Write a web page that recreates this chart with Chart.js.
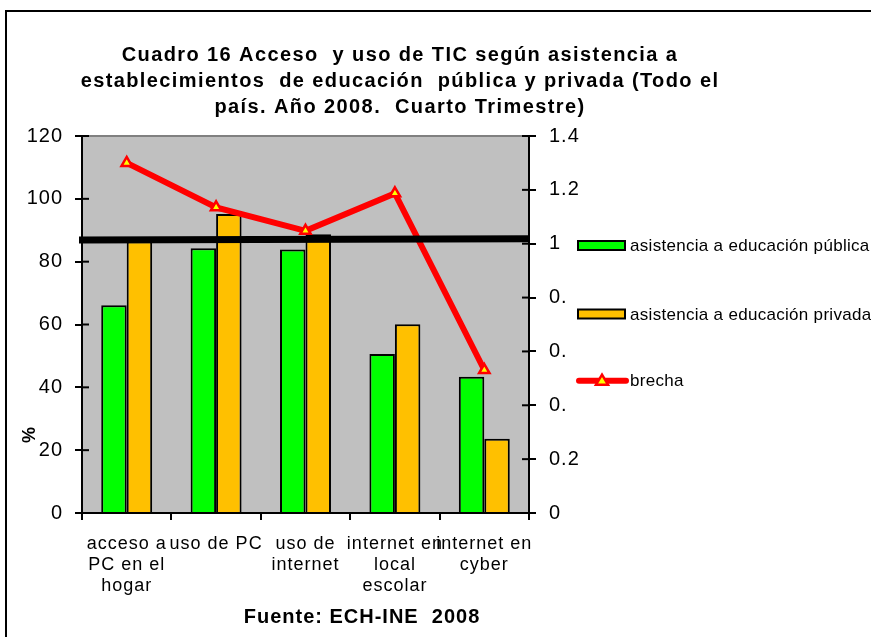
<!DOCTYPE html>
<html><head><meta charset="utf-8">
<script src="https://cdn.jsdelivr.net/npm/chart.js@4/dist/chart.umd.min.js"></script>
<style>html,body{margin:0;padding:0;background:#fff;overflow:hidden}#wrap{position:relative;width:871px;height:637px}</style>
</head><body><div id="wrap"><canvas id="c" width="871" height="637"></canvas></div>
<script>
const categories = [["acceso a","PC en el","hogar"],["uso de PC"],["uso de","internet"],["internet en","local","escolar"],["internet en","cyber"]];
const publica = [66.1, 84.3, 83.9, 50.6, 43.4];
const privada = [86.5, 95.2, 88.7, 60.1, 23.6];
const brecha = [1.30, 1.135, 1.048, 1.187, 0.531];
const referencia = [1.014, 1.018];
const leftTickValues = [0, 20, 40, 60, 80, 100, 120];
const rightTickValues = [0, 0.2, 0.4, 0.6, 0.8, 1, 1.2, 1.4];
const rightTickLabels = ["0", "0.2", "0.", "0.", "0.", "1", "1.2", "1.4"];
const seriesNames = ["asistencia a educación pública", "asistencia a educación privada", "brecha"];
const titleLines = ["Cuadro 16 Acceso  y uso de TIC según asistencia a", "establecimientos  de educación  pública y privada (Todo el", "país. Año 2008.  Cuarto Trimestre)"];
const footerText = "Fuente: ECH-INE  2008";
const yTitleText = "%";

const FONT = '"Liberation Sans", Arial, sans-serif';
const GREEN = '#00FF00', ORANGE = '#FFC000', RED = '#FF0000', YELLOW = '#FFFF00';

function setLS(ctx, v) { if ('letterSpacing' in ctx) ctx.letterSpacing = v; }

const decor = {
  id: 'decor',
  beforeDraw(chart) {
    const ctx = chart.ctx, a = chart.chartArea;
    ctx.save();
    ctx.fillStyle = '#fff';
    ctx.fillRect(0, 0, chart.width, chart.height);
    ctx.fillStyle = '#C0C0C0';
    ctx.fillRect(a.left, a.top, a.right - a.left, a.bottom - a.top);
    ctx.strokeStyle = '#808080';
    ctx.lineWidth = 2;
    ctx.beginPath(); ctx.moveTo(a.left, a.top); ctx.lineTo(a.right, a.top); ctx.stroke();
    ctx.restore();
    setLS(ctx, '1px');
  },
  afterDatasetsDraw(chart) {
    const ctx = chart.ctx, a = chart.chartArea, y1 = chart.scales.y1;
    ctx.save();
    ctx.strokeStyle = '#000';
    ctx.lineWidth = 7;
    ctx.beginPath();
    ctx.moveTo(a.left - 3, y1.getPixelForValue(referencia[0]));
    ctx.lineTo(a.right, y1.getPixelForValue(referencia[1]));
    ctx.stroke();
    ctx.restore();
  },
  afterDraw(chart) {
    const ctx = chart.ctx, a = chart.chartArea;
    ctx.save();
    setLS(ctx, '0px');
    // inner tick marks
    ctx.strokeStyle = '#000'; ctx.lineWidth = 2;
    chart.scales.y.ticks.forEach(t => {
      const p = chart.scales.y.getPixelForValue(t.value);
      ctx.beginPath(); ctx.moveTo(a.left, p); ctx.lineTo(a.left + 7, p); ctx.stroke();
    });
    chart.scales.y1.ticks.forEach(t => {
      const p = chart.scales.y1.getPixelForValue(t.value);
      ctx.beginPath(); ctx.moveTo(a.right - 7, p); ctx.lineTo(a.right, p); ctx.stroke();
    });
    // title
    ctx.fillStyle = '#000';
    ctx.textAlign = 'center'; ctx.textBaseline = 'alphabetic';
    ctx.font = 'bold 20px ' + FONT;
    setLS(ctx, '1.4px');
    const tb = [61, 87, 112.5];
    titleLines.forEach((l, i) => ctx.fillText(l, 400, tb[i]));
    // footer
    setLS(ctx, '1px');
    ctx.fillText(footerText, 362, 623);
    // y title
    ctx.save();
    setLS(ctx, '0px');
    ctx.translate(30, 435); ctx.rotate(-Math.PI / 2);
    ctx.font = 'bold 18px ' + FONT;
    ctx.textBaseline = 'middle';
    ctx.fillText(yTitleText, 0, 0);
    ctx.restore();
    // legend
    const ds = chart.data.datasets;
    const lx = a.right + 49, ys = [a.top + 109.5, a.top + 178, a.top + 244.7];
    ctx.font = '17px ' + FONT;
    setLS(ctx, '0.3px');
    ctx.textAlign = 'left'; ctx.textBaseline = 'middle';
    [0, 1].forEach(i => {
      ctx.fillStyle = ds[i].backgroundColor;
      ctx.fillRect(lx, ys[i] - 4.5, 47, 9);
      ctx.strokeStyle = '#000'; ctx.lineWidth = 2;
      ctx.strokeRect(lx, ys[i] - 4.5, 47, 9);
    });
    ctx.strokeStyle = ds[2].borderColor; ctx.lineWidth = 6; ctx.lineCap = 'round';
    ctx.beginPath(); ctx.moveTo(lx + 1, ys[2]); ctx.lineTo(lx + 48, ys[2]); ctx.stroke();
    ctx.lineCap = 'butt';
    const cx = lx + 24, cy = ys[2];
    ctx.beginPath(); ctx.moveTo(cx, cy - 6); ctx.lineTo(cx + 6, cy + 4); ctx.lineTo(cx - 6, cy + 4); ctx.closePath();
    ctx.fillStyle = ds[2].pointBackgroundColor; ctx.fill(); ctx.strokeStyle = ds[2].pointBorderColor; ctx.lineWidth = 2.5; ctx.stroke();
    ctx.fillStyle = '#000';
    [0, 1, 2].forEach(i => ctx.fillText(ds[i].label, lx + 52, ys[i] + 1));
    // outer border
    setLS(ctx, '0px');
    ctx.strokeStyle = '#000'; ctx.lineWidth = 2;
    ctx.strokeRect(6, 11, 1000, 1000);
    ctx.restore();
  }
};

new Chart(document.getElementById('c'), {
  type: 'bar',
  data: {
    labels: categories,
    datasets: [
      { label: seriesNames[0], data: publica, yAxisID: 'y', order: 1,
        backgroundColor: GREEN, borderColor: '#000', borderWidth: 2,
        categoryPercentage: 0.57, barPercentage: 1.0 },
      { label: seriesNames[1], data: privada, yAxisID: 'y', order: 1,
        backgroundColor: ORANGE, borderColor: '#000', borderWidth: 2,
        categoryPercentage: 0.57, barPercentage: 1.0 },
      { type: 'line', label: seriesNames[2], data: brecha, yAxisID: 'y1', order: 0,
        borderColor: RED, borderWidth: 6, tension: 0,
        pointStyle: 'triangle', pointRadius: 6, pointBackgroundColor: YELLOW,
        pointBorderColor: RED, pointBorderWidth: 2.5 }
    ]
  },
  options: {
    responsive: false,
    animation: false,
    devicePixelRatio: 1,
    layout: { padding: { top: 136, left: 0, right: 0, bottom: 0 } },
    plugins: { legend: { display: false }, title: { display: false }, tooltip: { enabled: false } },
    scales: {
      x: {
        grid: { offset: true, drawOnChartArea: false, tickLength: 7, color: '#000', lineWidth: 2 },
        border: { color: '#000', width: 2 },
        ticks: { font: { family: FONT, size: 18, lineHeight: '21px' }, color: '#000', padding: 14,
                 maxRotation: 0, minRotation: 0, autoSkip: false },
        afterFit(s) { s.height = 124; }
      },
      y: {
        position: 'left', min: 0, max: 120,
        afterBuildTicks(s) { s.ticks = leftTickValues.map(v => ({ value: v })); },
        ticks: { font: { family: FONT, size: 20 }, color: '#000', padding: 12 },
        grid: { drawOnChartArea: false, tickLength: 7, color: '#000', lineWidth: 2 },
        border: { color: '#000', width: 2 },
        afterFit(s) { s.width = 82; }
      },
      y1: {
        position: 'right', min: 0, max: 1.4,
        afterBuildTicks(s) { s.ticks = rightTickValues.map(v => ({ value: v })); },
        ticks: { font: { family: FONT, size: 20 }, color: '#000', padding: 13,
                 callback: (v, i) => rightTickLabels[i] },
        grid: { drawOnChartArea: false, tickLength: 7, color: '#000', lineWidth: 2 },
        border: { color: '#000', width: 2 },
        afterFit(s) { s.width = 342; }
      }
    }
  },
  plugins: [decor]
});
</script>
</body></html>
